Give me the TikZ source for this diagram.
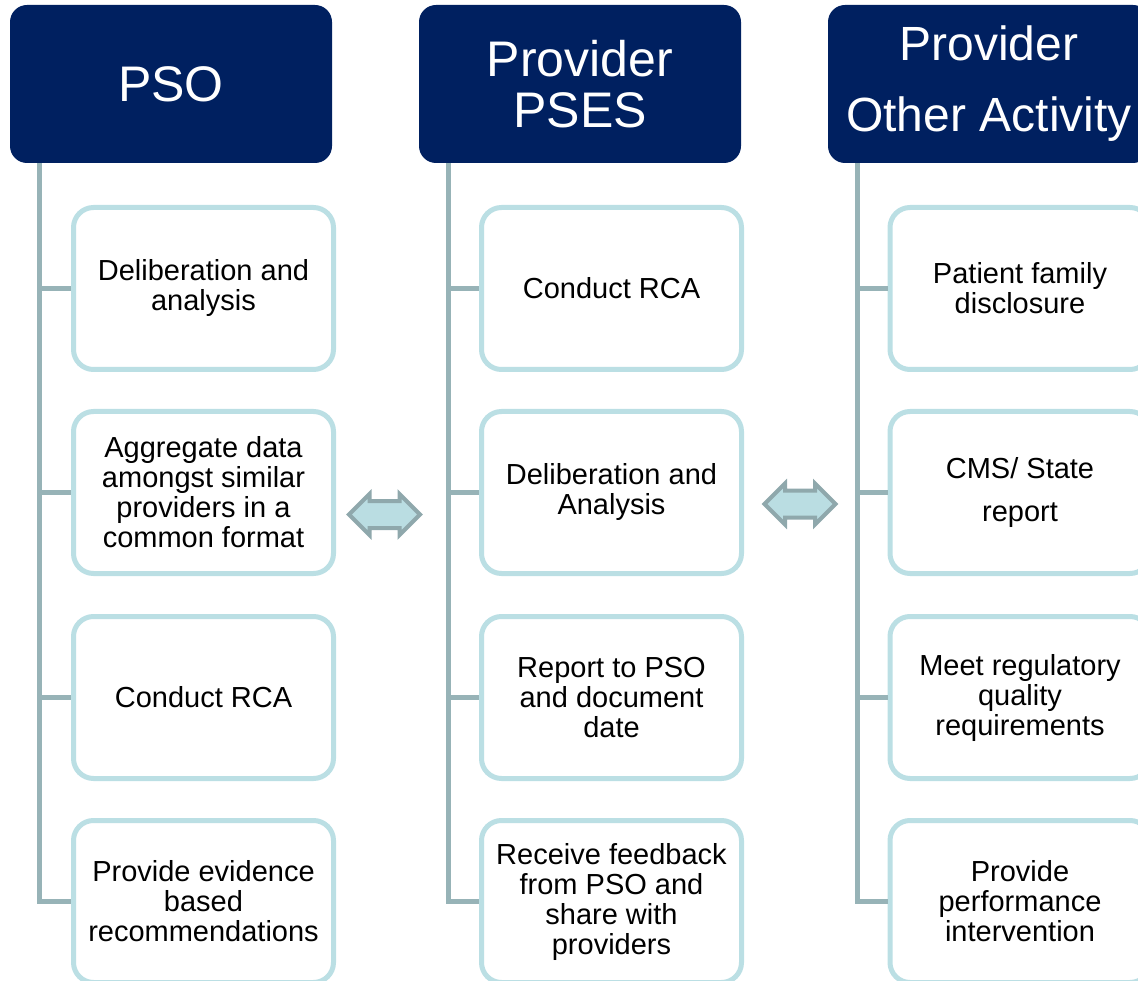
\documentclass[tikz,border=0pt]{standalone}
\usepackage{fontspec}
\setmainfont{Liberation Sans}
\usetikzlibrary{shapes.arrows}
\definecolor{navy}{RGB}{0,32,96}
\definecolor{itemline}{RGB}{187,223,228}
\definecolor{trunkline}{RGB}{151,179,183}
\definecolor{linkfill}{RGB}{186,221,226}
\definecolor{linkline}{RGB}{143,168,172}
\begin{document}
\begin{tikzpicture}[x=1pt, y=-1pt,
		header/.style={rectangle, rounded corners=17pt, fill=navy, text=white, minimum width=322pt, minimum height=158pt, inner sep=0pt, align=center, font=\fontsize{50}{51}\selectfont},
		item/.style={rectangle, rounded corners=20pt, draw=itemline, line width=5pt, fill=white, minimum width=260pt, minimum height=162pt, inner sep=0pt, align=center, font=\fontsize{29}{30}\selectfont},
		trunk/.style={draw=trunkline, line width=5pt},
		link/.style={double arrow, draw=linkline, fill=linkfill, line width=4pt, inner xsep=0pt, inner ysep=11.5pt, minimum height=71pt, double arrow head extend=7pt, double arrow tip angle=90}]
		\useasboundingbox (0,0) rectangle (1138,981);
		\clip (0,0) rectangle (1138,981);

		\node[header] (pso) at (171,84) {PSO};
		\node[header] (pses) at (580,84) {Provider\\PSES};
		\node[header, font=\fontsize{48}{51}\selectfont] (other) at (989,84) {Provider\\[20pt]Other Activity};

		\node[item] (pso1) at (203.5,288.5) {Deliberation and\\analysis};
		\node[item] (pso2) at (203.5,492.5) {Aggregate data\\amongst similar\\providers in a\\common format};
		\node[item] (pso3) at (203.5,697.5) {Conduct RCA};
		\node[item] (pso4) at (203.5,901.5) {Provide evidence\\based\\recommendations};

		\node[item] (pses1) at (611.5,288.5) {Conduct RCA};
		\node[item] (pses2) at (611.5,492.5) {Deliberation and\\Analysis};
		\node[item] (pses3) at (611.5,697.5) {Report to PSO\\and document\\date};
		\node[item] (pses4) at (611.5,901.5) {Receive feedback\\from PSO and\\share with\\providers};

		\node[item] (other1) at (1020,288.5) {Patient family\\disclosure};
		\node[item] (other2) at (1020,492.5) {CMS/ State\\[13pt]report};
		\node[item] (other3) at (1020,697.5) {Meet regulatory\\quality\\requirements};
		\node[item] (other4) at (1020,901.5) {Provide\\performance\\intervention};

		\draw[trunk] ([xshift=30pt]pso.south west) |- (pso4.west);
		\draw[trunk] ([xshift=30pt]pso.south west |- pso1.west) -- (pso1.west);
		\draw[trunk] ([xshift=30pt]pso.south west |- pso2.west) -- (pso2.west);
		\draw[trunk] ([xshift=30pt]pso.south west |- pso3.west) -- (pso3.west);

		\draw[trunk] ([xshift=30pt]pses.south west) |- (pses4.west);
		\draw[trunk] ([xshift=30pt]pses.south west |- pses1.west) -- (pses1.west);
		\draw[trunk] ([xshift=30pt]pses.south west |- pses2.west) -- (pses2.west);
		\draw[trunk] ([xshift=30pt]pses.south west |- pses3.west) -- (pses3.west);

		\draw[trunk] ([xshift=30pt]other.south west) |- (other4.west);
		\draw[trunk] ([xshift=30pt]other.south west |- other1.west) -- (other1.west);
		\draw[trunk] ([xshift=30pt]other.south west |- other2.west) -- (other2.west);
		\draw[trunk] ([xshift=30pt]other.south west |- other3.west) -- (other3.west);

		\node[link] (linkLeft) at (384.5,514.5) {};
		\node[link] (linkRight) at (800,504) {};
	\end{tikzpicture}
\end{document}
